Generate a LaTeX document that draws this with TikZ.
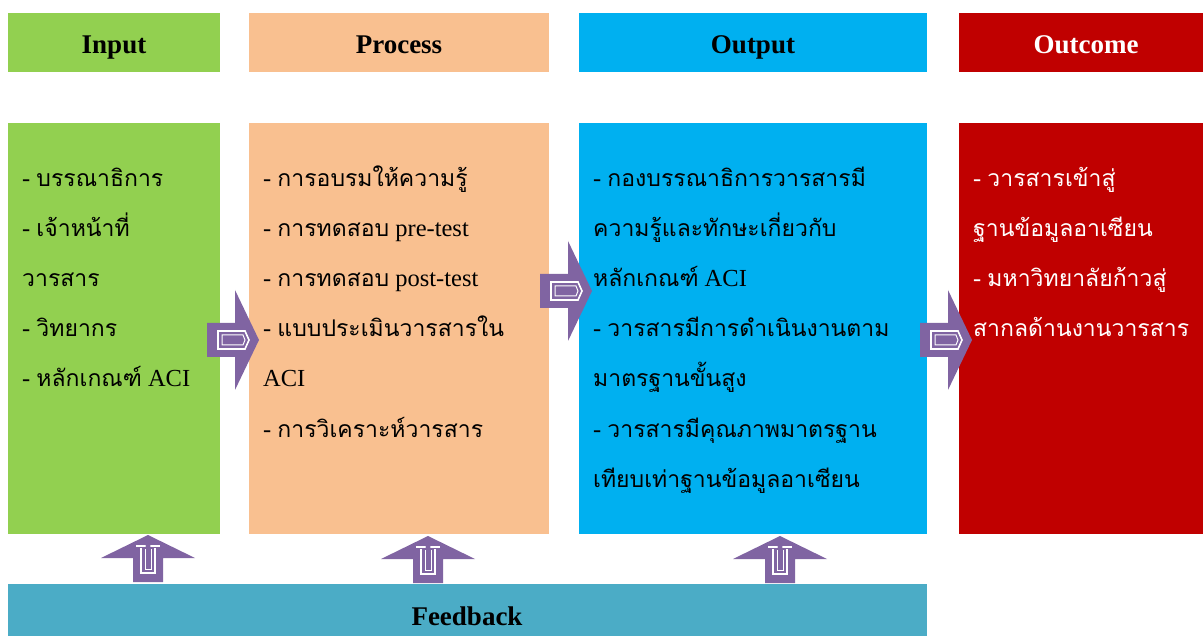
\documentclass[tikz,border=0pt]{standalone}
\usepackage{fontspec}
\setmainfont{Liberation Serif}
\newfontfamily\thai[Script=Thai]{Loma}
\definecolor{cgreen}{HTML}{92D050}
\definecolor{cpeach}{HTML}{F9C090}
\definecolor{ccyan}{HTML}{00B0F0}
\definecolor{cred}{HTML}{C00000}
\definecolor{cfeed}{HTML}{4BACC6}
\definecolor{cpurple}{HTML}{8064A2}
\newcommand{\ts}{\thai\fontsize{23}{23}\selectfont}
\begin{document}
\begin{tikzpicture}[x=1pt,y=-1pt,
  box/.style={anchor=north west,inner sep=0pt,outer sep=0pt,draw=none},
  headtxt/.style={anchor=base,inner sep=0pt,font=\fontsize{27}{27}\selectfont\bfseries},
  line/.style={anchor=base west,inner sep=0pt,font=\fontsize{24.5}{24.5}\selectfont},
  rarrow/.style={fill=cpurple,draw=none},
  inner/.style={draw=white,line width=1.6pt,fill=none}]
\useasboundingbox (0,0) rectangle (1203,636);
% header boxes
\node[box,fill=cgreen,minimum width=212pt,minimum height=59pt] (hin) at (8,13) {};
\node[box,fill=cpeach,minimum width=300pt,minimum height=59pt] (hpr) at (249,13) {};
\node[box,fill=ccyan,minimum width=348pt,minimum height=59pt] (hout) at (579,13) {};
\node[box,fill=cred,minimum width=244pt,minimum height=59pt] (hoc) at (959,13) {};
\node[headtxt] (tin) at (114,54) {Input};
\node[headtxt] (tpr) at (399,54) {Process};
\node[headtxt] (tout) at (753,54) {Output};
\node[headtxt,text=white] (toc) at (1086,54) {Outcome};
% body boxes
\node[box,fill=cgreen,minimum width=212pt,minimum height=411pt] (bin) at (8,123) {};
\node[box,fill=cpeach,minimum width=300pt,minimum height=411pt] (bpr) at (249,123) {};
\node[box,fill=ccyan,minimum width=348pt,minimum height=411pt] (bout) at (579,123) {};
\node[box,fill=cred,minimum width=244pt,minimum height=411pt] (boc) at (959,123) {};
% feedback
\node[box,fill=cfeed,minimum width=919pt,minimum height=52pt] (fb) at (8,584) {};
\node[headtxt] (tfb) at (467,625) {Feedback};
% input text
\node[line] (i1) at (22,187) {- {\ts บรรณาธิการ}};
\node[line] (i2) at (22,237) {- {\ts เจ้าหน้าที่}};
\node[line] (i3) at (22,287) {{\ts วารสาร}};
\node[line] (i4) at (22,337) {- {\ts วิทยากร}};
\node[line] (i5) at (22,387) {- {\ts หลักเกณฑ์} ACI};
% process text
\node[line] (p1) at (263,187) {- {\ts การอบรมให้ความรู้}};
\node[line] (p2) at (263,237) {- {\ts การทดสอบ} pre-test};
\node[line] (p3) at (263,287) {- {\ts การทดสอบ} post-test};
\node[line] (p4) at (263,337) {- {\ts แบบประเมินวารสารใน}};
\node[line] (p5) at (263,387) {ACI};
\node[line] (p6) at (263,437) {- {\ts การวิเคราะห์วารสาร}};
% output text
\node[line] (o1) at (593,187) {- {\ts กองบรรณาธิการวารสารมี}};
\node[line] (o2) at (593,237) {{\ts ความรู้และทักษะเกี่ยวกับ}};
\node[line] (o3) at (593,287) {{\ts หลักเกณฑ์} ACI};
\node[line] (o4) at (593,337) {- {\ts วารสารมีการดำเนินงานตาม}};
\node[line] (o5) at (593,387) {{\ts มาตรฐานขั้นสูง}};
\node[line] (o6) at (593,437) {- {\ts วารสารมีคุณภาพมาตรฐาน}};
\node[line] (o7) at (593,487) {{\ts เทียบเท่าฐานข้อมูลอาเซียน}};
% outcome text
\node[line,text=white] (c1) at (973,187) {- {\ts วารสารเข้าสู่}};
\node[line,text=white] (c2) at (973,237) {{\ts ฐานข้อมูลอาเซียน}};
\node[line,text=white] (c3) at (973,287) {- {\ts มหาวิทยาลัยก้าวสู่}};
\node[line,text=white] (c4) at (973,337) {{\ts สากลด้านงานวารสาร}};
% right arrows
\foreach \tx/\ty in {259/340, 592/291, 972/340}{
  \begin{scope}[shift={(\tx,\ty)}]
    \fill[rarrow] (-52,-17) -- (-24,-17) -- (-24,-50) -- (0,0) -- (-24,50) -- (-24,17) -- (-52,17) -- cycle;
    \draw[inner] (-41,-9) -- (-14,-9) -- (-10,0) -- (-14,9) -- (-41,9) -- cycle;
    \draw[draw=white,line width=1pt] (-37,-5) -- (-16,-5) -- (-14,0) -- (-16,5) -- (-37,5) -- cycle;
  \end{scope}
}
% up arrows
\foreach \tx/\ty in {148/535, 428/536, 780/536}{
  \begin{scope}[shift={(\tx,\ty)}]
    \fill[rarrow] (0,0) -- (47,23) -- (15,23) -- (15,47) -- (-15,47) -- (-15,23) -- (-47,23) -- cycle;
    \draw[inner] (-7,13) -- (-7,38) -- (7,38) -- (7,13);
    \draw[draw=white,line width=1pt] (-3,14) -- (-3,34) -- (3,34) -- (3,14);
    \draw[draw=white,line width=1.6pt] (-12,11) -- (12,11);
    \fill[cpurple] (0,11) circle (2.5);
  \end{scope}
}
\end{tikzpicture}
\end{document}
